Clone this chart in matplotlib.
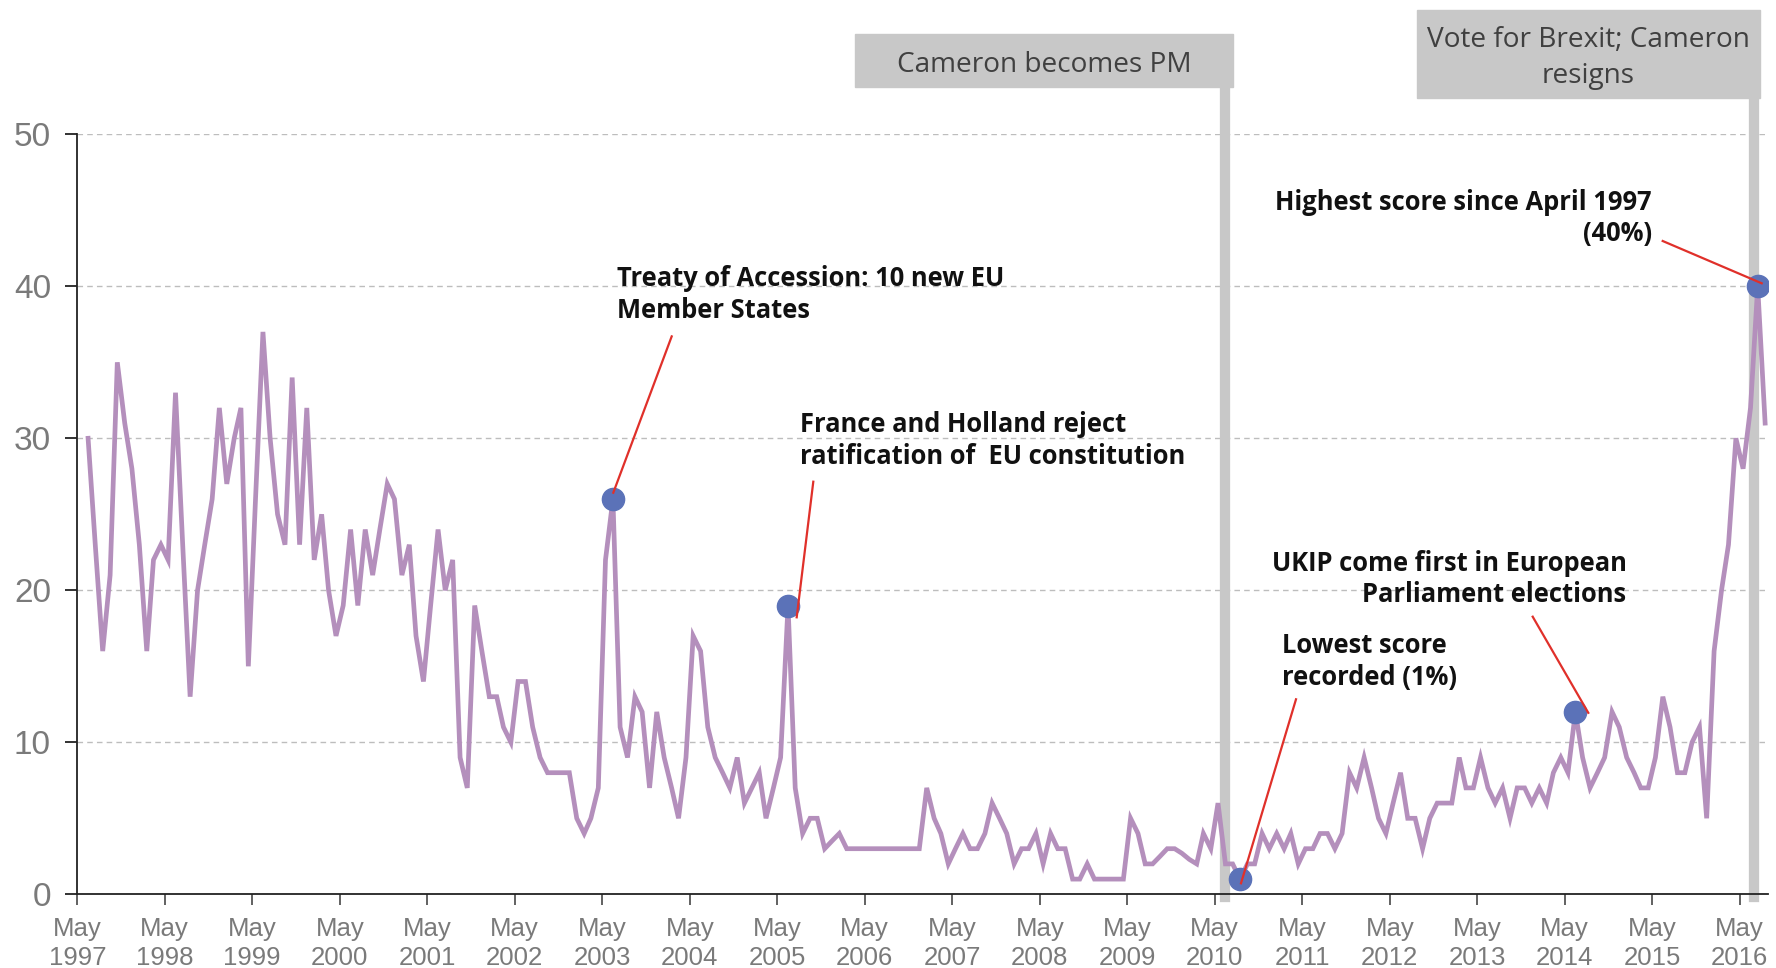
import matplotlib
matplotlib.use("Agg")
import matplotlib.pyplot as plt
from matplotlib.patches import Rectangle
import pandas as pd

W, H = 1776, 968

# monthly score, Jun 1997 - Aug 2016
scores = [
    30, 23, 16, 21, 35, 31, 28, 23, 16, 22,
    23, 22, 33, 23, 13, 20, 23, 26, 32, 27,
    30, 32, 15, 26, 37, 30, 25, 23, 34, 23,
    32, 22, 25, 20, 17, 19, 24, 19, 24, 21,
    24, 27, 26, 21, 23, 17, 14, 19, 24, 20,
    22, 9, 7, 19, 16, 13, 13, 11, 10, 14,
    14, 11, 9, 8, 8, 8, 8, 5, 4, 5,
    7, 22, 26, 11, 9, 13, 12, 7, 12, 9,
    7, 5, 9, 17, 16, 11, 9, 8, 7, 9,
    6, 7, 8, 5, 7, 9, 19, 7, 4, 5,
    5, 3, 3.5, 4, 3, 3, 3, 3, 3, 3,
    3, 3, 3, 3, 3, 7, 5, 4, 2, 3,
    4, 3, 3, 4, 6, 5, 4, 2, 3, 3,
    4, 2, 4, 3, 3, 1, 1, 2, 1, 1,
    1, 1, 1, 5, 4, 2, 2, 2.5, 3, 3,
    2.7, 2.3, 2, 4, 3, 6, 2, 2, 1, 2,
    2, 4, 3, 4, 3, 4, 2, 3, 3, 4,
    4, 3, 4, 8, 7, 9, 7, 5, 4, 6,
    8, 5, 5, 3, 5, 6, 6, 6, 9, 7,
    7, 9, 7, 6, 7, 5, 7, 7, 6, 7,
    6, 8, 9, 8, 12, 9, 7, 8, 9, 12,
    11, 9, 8, 7, 7, 9, 13, 11, 8, 8,
    10, 11, 5, 16, 20, 23, 30, 28, 32, 40,
    31,
]
highlight_idx = [72, 96, 158, 204, 229]
tick_years = list(range(1997, 2017))
event_dates = ["2010-06-12", "2016-06-28"]
event_labels = ["Cameron becomes PM", "Vote for Brexit; Cameron\nresigns"]

dates = pd.date_range("1997-06-01", periods=len(scores), freq="MS") + pd.Timedelta(days=14)

LINE = "#b48fbc"
DOT = "#5b72b8"
RED = "#e0302a"
BOX = "#c8c8c8"
TICK = "#7a7a7a"

fig = plt.figure(figsize=(W / 100, H / 100), dpi=100)
ax = fig.add_axes([77.3 / W, 1 - 894.3 / H, (1768 - 77.3) / W, (894.3 - 134.3) / H])

ax.plot(dates, scores, color=LINE, lw=3.4, solid_joinstyle="miter", zorder=3)
ax.plot(dates[highlight_idx], [scores[i] for i in highlight_idx], "o",
        color=DOT, ms=16, zorder=4)

ax.set_ylim(0, 50)
ax.set_xlim(pd.Timestamp("1997-05-01"), pd.Timestamp("2016-08-27"))
ax.set_yticks(range(0, 51, 10))
ax.set_xticks([pd.Timestamp(f"{y}-05-01") for y in tick_years])
ax.set_xticklabels([f"May\n{y}" for y in tick_years], linespacing=1.3)
ax.yaxis.grid(True, ls=(0, (4, 3)), color="#bdbdbd", lw=1, zorder=0)
ax.set_axisbelow(True)
for s in ["top", "right"]:
    ax.spines[s].set_visible(False)
for s in ["left", "bottom"]:
    ax.spines[s].set_color("#222222")
    ax.spines[s].set_linewidth(1.3)
ax.tick_params(axis="y", length=9, width=1.3, color="#222222", pad=10,
               labelsize=24, labelcolor=TICK)
ax.tick_params(axis="x", length=8, width=1.3, color="#555555", pad=8,
               labelsize=18.5, labelcolor=TICK)
for lab in ax.get_xticklabels() + ax.get_yticklabels():
    lab.set_family("Liberation Sans")

# event bars and boxes
for d in event_dates:
    ax.axvline(pd.Timestamp(d), ymin=-0.004, ymax=1.1, color=BOX, lw=7.4,
               clip_on=False, zorder=2)
boxes = [(855, 34, 1233, 87), (1417, 10, 1760, 98)]
for (x0, y0, x1, y1), txt in zip(boxes, event_labels):
    fig.patches.append(Rectangle((x0 / W, 1 - y1 / H), (x1 - x0) / W, (y1 - y0) / H,
                                 transform=fig.transFigure, color=BOX, zorder=5))
    fig.text((x0 + x1) / 2 / W, 1 - ((y0 + y1) / 2 + 4) / H, txt, ha="center",
             va="center", fontsize=20.2, family="Open Sans", color="#404040",
             zorder=6, linespacing=1.36)

# annotation texts (figure pixels, top-origin, last-line baseline)
notes = [
    ("Treaty of Accession: 10 new EU\nMember States", 616.7, 318, "left"),
    ("France and Holland reject\nratification of  EU constitution", 800, 463.5, "left"),
    ("Lowest score\nrecorded (1%)", 1282, 685, "left"),
    ("UKIP come first in European\nParliament elections", 1626.6, 602.5, "right"),
    ("Highest score since April 1997\n(40%)", 1651.7, 241.5, "right"),
]
for txt, x, y, ha in notes:
    fig.text(x / W, 1 - y / H, txt, ha=ha, va="baseline", fontsize=18.4,
             family="Open Sans", weight="bold", color="#111111", linespacing=1.22)

leaders = [
    ((671.7, 336.4), (613.3, 492.7)),
    ((813.3, 481.7), (796.7, 617.3)),
    ((1296, 699.3), (1241, 883.3)),
    ((1532.7, 616.7), (1588.3, 712.8)),
    ((1662.7, 241), (1761.7, 283.3)),
]
for (xa, ya), (xb, yb) in leaders:
    fig.add_artist(plt.Line2D([xa / W, xb / W], [1 - ya / H, 1 - yb / H],
                              transform=fig.transFigure, color=RED, lw=1.6, zorder=7))

fig.savefig("out.png", dpi=100)
